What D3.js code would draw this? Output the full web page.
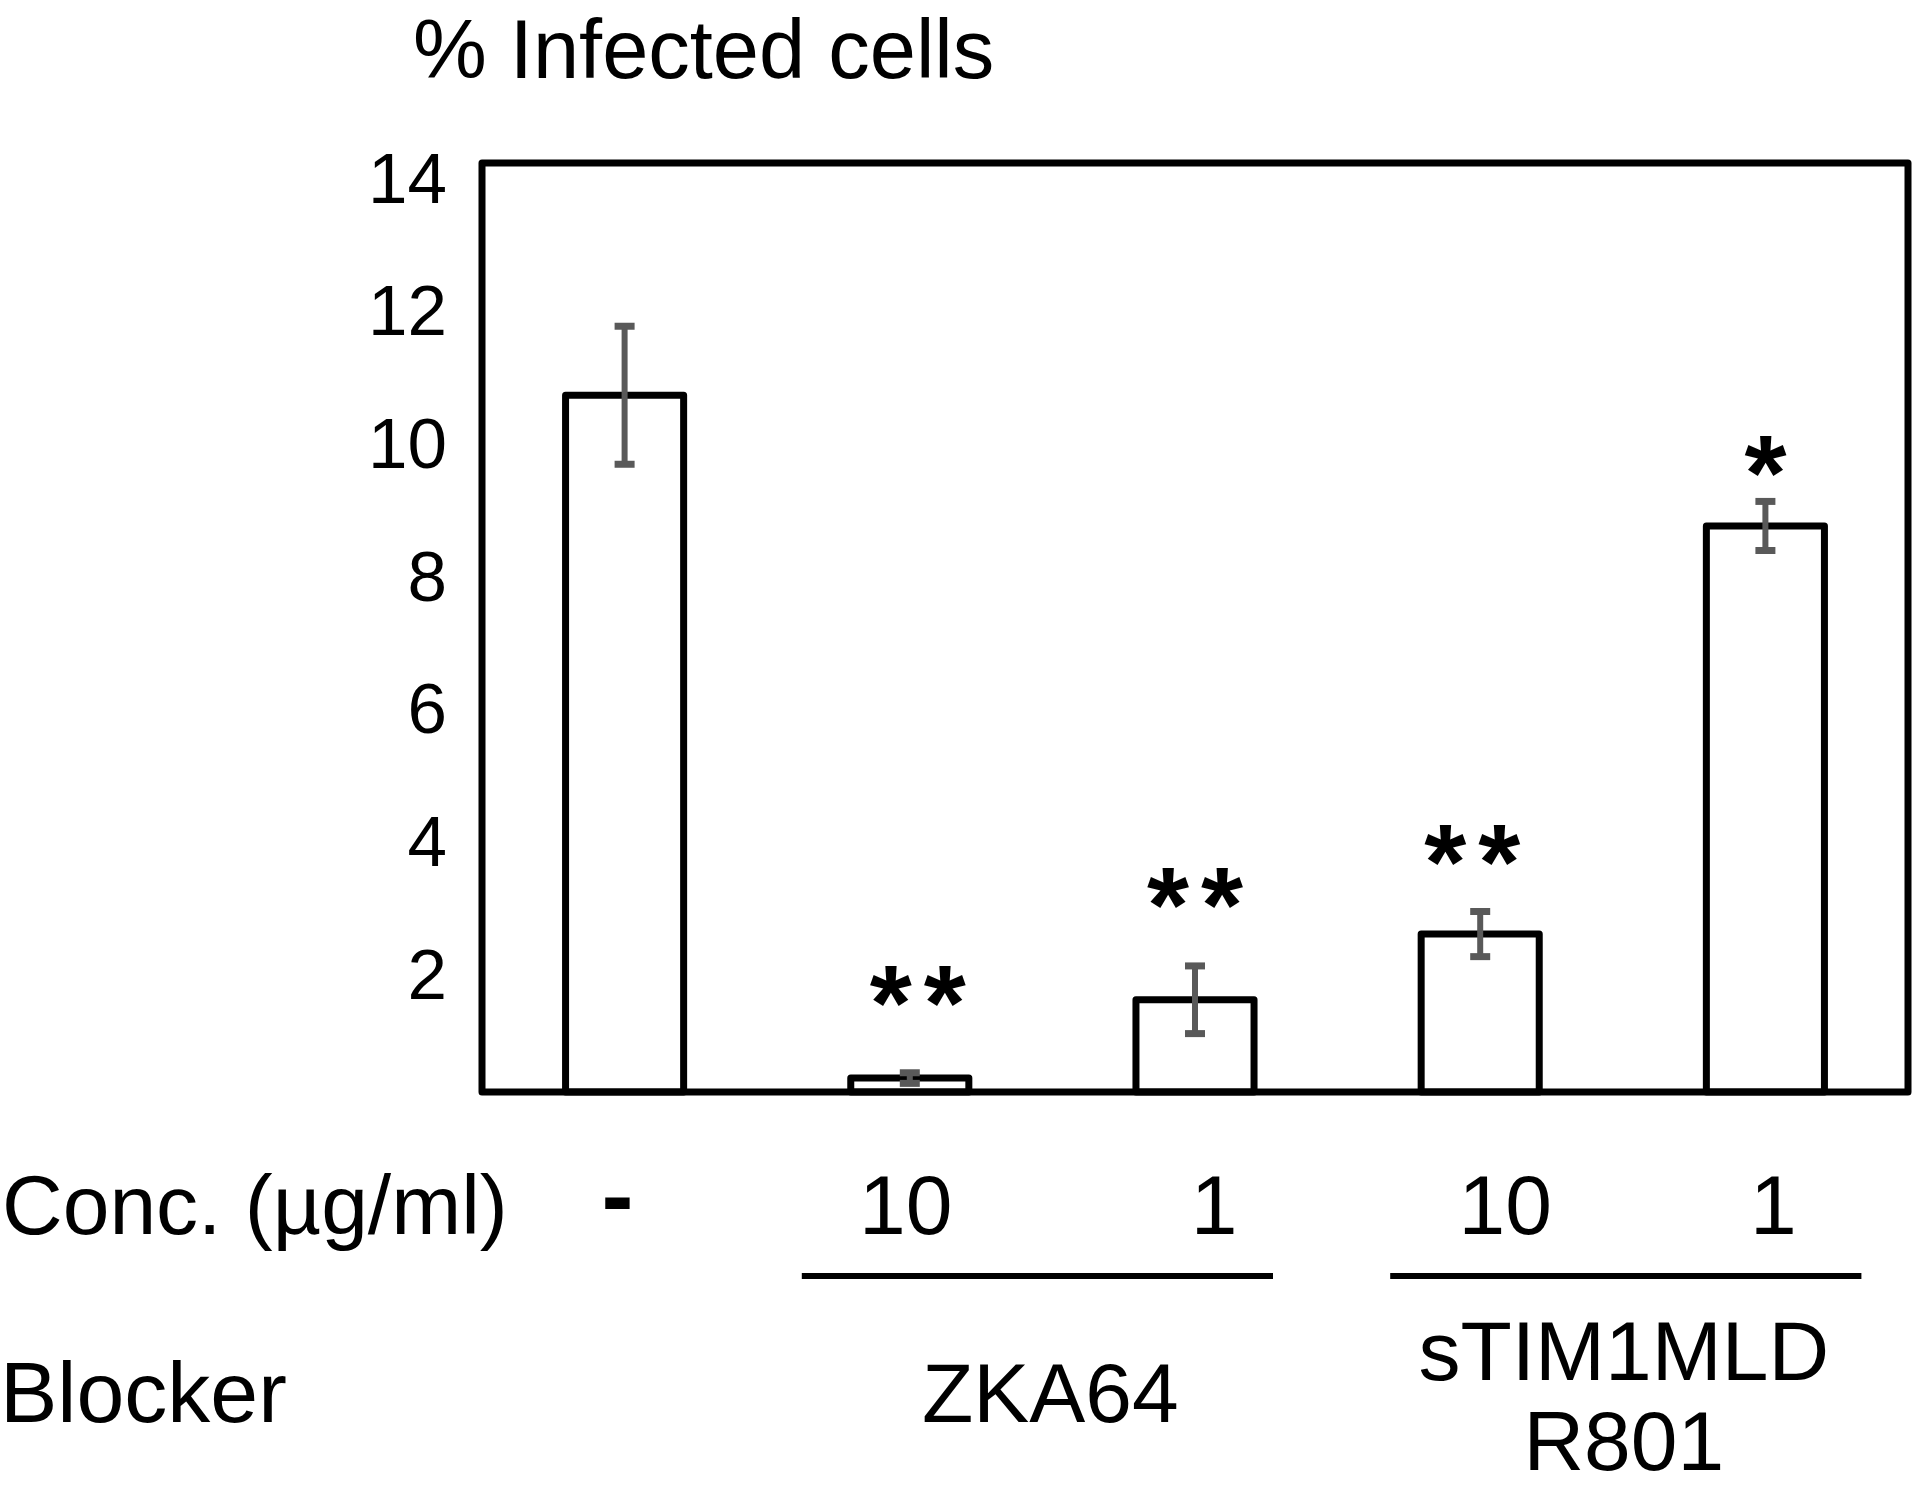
<!DOCTYPE html>
<html><head><meta charset="utf-8">
<script src="https://cdn.jsdelivr.net/npm/d3@7"></script>
<style>
body{margin:0;background:#fff}
svg{display:block}
text{font-family:"Liberation Sans",Arial,sans-serif;fill:#000}
</style>
</head><body><svg id="c" width="1920" height="1487"></svg>
<script>
// ---- data ----
const categories = ["none", "ZKA64 10", "ZKA64 1", "sTIM1MLD R801 10", "sTIM1MLD R801 1"];
const values = [10.5, 0.21, 1.39, 2.38, 8.53];
const errors = [1.04, 0.08, 0.51, 0.34, 0.37];
const significance = ["", "**", "**", "**", "*"];
const concLabels = ["-", "10", "1", "10", "1"];
const blockerNames = [["ZKA64"], ["sTIM1MLD", "R801"]];
const blockerSpans = [[1, 2], [3, 4]];
const yTicks = [2, 4, 6, 8, 10, 12, 14];
const yTitle = "% Infected cells";
const concTitle = "Conc. (µg/ml)";
const blockerTitle = "Blocker";

// ---- layout (not data) ----
const L = {x0: 482, x1: 1908, y0: 163, y1: 1092};
const starGap = [0, 100, 91, 79, 58];
const starDx = [0, 8, 0, -8, 0];
const concDx = [-7, -4, 19, 25, 8];
const lineExt = [[-108, 78], [-90, 96]];
const blockerDx = [-2, 1];
const FS = 84;

const svg = d3.select("#c");
const x = d3.scaleBand().domain(categories).range([L.x0, L.x1]).paddingInner(0.586).paddingOuter(0.293);
const y = d3.scaleLinear().domain([0, 14]).range([L.y1, L.y0]);
const cx = i => x(categories[i]) + x.bandwidth() / 2;

// y axis labels
const ax = svg.append("g").attr("transform", `translate(${L.x0},0)`)
  .call(d3.axisLeft(y).tickValues(yTicks).tickSize(0).tickPadding(35));
ax.select(".domain").remove();
ax.selectAll("text").attr("font-size", 71).attr("font-family", '"Liberation Sans",Arial,sans-serif')
  .attr("fill", "#000").attr("dy", "0.55em");

// bars
svg.append("g").selectAll("rect").data(values).join("rect")
  .attr("x", (d, i) => x(categories[i]))
  .attr("width", x.bandwidth())
  .attr("y", d => y(d))
  .attr("height", d => y(0) - y(d))
  .attr("fill", "#fff").attr("stroke", "#000").attr("stroke-width", 7)
  .attr("stroke-linejoin", "round");

// error bars
const eb = svg.append("g").attr("stroke", "#595959").attr("stroke-width", 6);
values.forEach((v, i) => {
  const c = cx(i), e = errors[i];
  eb.append("line").attr("x1", c).attr("x2", c).attr("y1", y(v - e)).attr("y2", y(v + e));
  [v - e, v + e].forEach(t => eb.append("line").attr("x1", c - 10).attr("x2", c + 10)
    .attr("y1", y(t)).attr("y2", y(t)).attr("stroke-width", 7));
});

// frame
svg.append("rect").attr("x", L.x0).attr("y", L.y0).attr("width", L.x1 - L.x0).attr("height", L.y1 - L.y0)
  .attr("fill", "none").attr("stroke", "#000").attr("stroke-width", 7).attr("stroke-linejoin", "round");

// significance stars
significance.forEach((s, i) => {
  const n = s.length;
  for (let k = 0; k < n; k++) {
    svg.append("text")
      .attr("x", cx(i) + starDx[i] + (k - (n - 1) / 2) * 54)
      .attr("y", y(values[i] + errors[i]) - starGap[i])
      .attr("dy", "0.62em")
      .attr("text-anchor", "middle")
      .attr("font-family", '"DejaVu Sans",sans-serif')
      .attr("font-weight", "bold")
      .attr("font-size", 108)
      .text("*");
  }
});

// titles
svg.append("text").attr("x", 413).attr("y", 78).attr("font-size", 83).text(yTitle);
svg.append("text").attr("x", 2).attr("y", 1234).attr("font-size", FS).text(concTitle);
svg.append("text").attr("x", 0).attr("y", 1422).attr("font-size", FS + 2).text(blockerTitle);

// conc labels
concLabels.forEach((t, i) => {
  const isDash = t === "-";
  svg.append("text").attr("x", cx(i) + concDx[i]).attr("y", isDash ? 1228 : 1234).attr("text-anchor", "middle")
    .attr("font-size", isDash ? 96 : FS).attr("font-weight", isDash ? "bold" : "normal").text(t);
});

// blocker groups
blockerSpans.forEach((sp, g) => {
  const a = cx(sp[0]) + lineExt[g][0], b = cx(sp[1]) + lineExt[g][1];
  svg.append("line").attr("x1", a).attr("x2", b).attr("y1", 1276).attr("y2", 1276)
    .attr("stroke", "#000").attr("stroke-width", 6);
  const mid = (cx(sp[0]) + cx(sp[1])) / 2 + blockerDx[g];
  const names = blockerNames[g];
  const base = names.length === 1 ? [1422] : [1380, 1470];
  names.forEach((nm, k) => {
    svg.append("text").attr("x", mid).attr("y", base[k]).attr("text-anchor", "middle")
      .attr("font-size", FS).text(nm);
  });
});
</script>
</body></html>
